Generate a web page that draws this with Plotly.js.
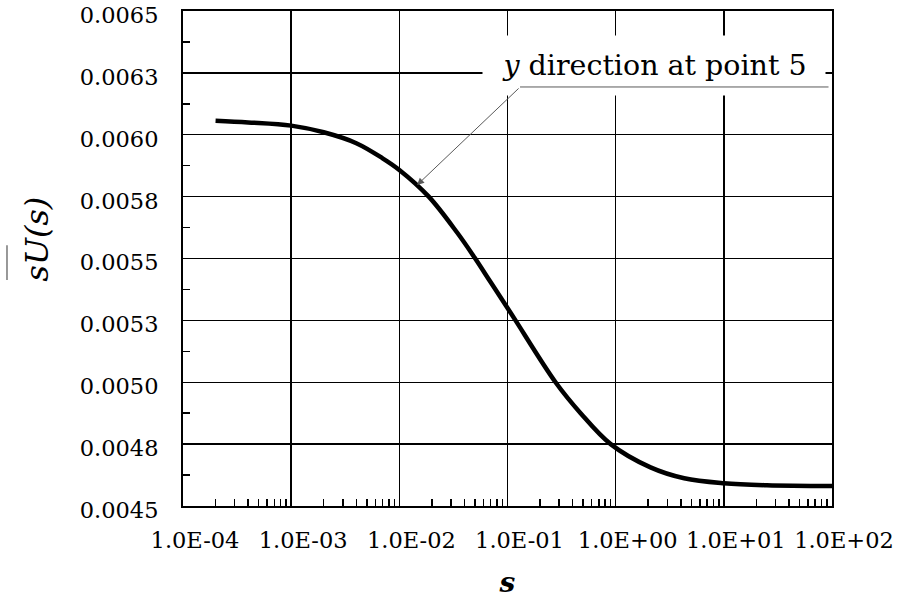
<!DOCTYPE html>
<html><head><meta charset="utf-8">
<script src="https://cdn.plot.ly/plotly-3.0.1.min.js"></script>
<style>html,body{margin:0;padding:0;background:#fff}</style>
</head><body><div id="chart" style="width:897px;height:601px"></div>
<script>
// Data
const sValues = [2e-4, 4e-4, 1e-3, 2e-3, 4e-3, 7e-3, 1e-2, 0.0187, 0.0342, 0.0494, 0.0697, 0.1, 0.1186, 0.278, 0.474, 0.899, 2.1, 4.3, 10, 25, 100];
const sUValues = [0.006057, 0.006050, 0.006037, 0.006010, 0.005966, 0.005905, 0.005858, 0.005750, 0.005605, 0.005505, 0.005405, 0.005300, 0.005250, 0.005000, 0.004875, 0.004750, 0.004656, 0.004612, 0.004592, 0.004584, 0.004581];

const xTickVals = [1e-4, 1e-3, 1e-2, 1e-1, 1, 10, 100];
const xTickLabels = ['1.0E-04', '1.0E-03', '1.0E-02', '1.0E-01', '1.0E+00', '1.0E+01', '1.0E+02'];
const yTickVals = [0.0045, 0.00475, 0.005, 0.00525, 0.0055, 0.00575, 0.006, 0.00625, 0.0065];
const yTickLabels = ['0.0045', '0.0048', '0.0050', '0.0053', '0.0055', '0.0058', '0.0060', '0.0063', '0.0065'];

const calloutText = '<i>y</i> direction at point 5';
const calloutTarget = {x: 0.0146, y: 0.005797};
const xTitle = '<b><i>s</i></b>';
const yTitle = '<i>sU(s)</i>';

// minor ticks (axis decoration)
const xMinor = [];
for (let d = -4; d < 2; d++) for (let k = 2; k <= 9; k++) xMinor.push(k * Math.pow(10, d));
const yMinor = [];
for (let i = 0; i < yTickVals.length - 1; i++) yMinor.push((yTickVals[i] + yTickVals[i + 1]) / 2);

const FONT = 'DejaVu Serif';

const trace = {
  x: sValues, y: sUValues, type: 'scatter', mode: 'lines',
  line: {color: '#000', width: 4.5, shape: 'spline', smoothing: 1},
  hoverinfo: 'skip'
};

const layout = {
  width: 897, height: 601,
  margin: {l: 183, r: 65, t: 11, b: 95},
  paper_bgcolor: '#fff', plot_bgcolor: '#fff',
  showlegend: false,
  font: {family: FONT, color: '#000', size: 23},
  xaxis: {
    type: 'log', range: [-4, 2.00001],
    tickmode: 'array', tickvals: xTickVals, ticktext: xTickLabels,
    ticks: '', showgrid: true, gridcolor: '#000', gridwidth: 1.4,
    showline: true, linecolor: '#000', linewidth: 2, mirror: true,
    zeroline: false,
    tickfont: {family: FONT, size: 22.5, color: '#000'},
    ticklabelstandoff: 13, ticklabelshift: 12, ticklabeloverflow: 'allow',
    minor: {tickmode: 'array', tickvals: xMinor, ticks: 'inside', ticklen: 7, tickwidth: 1.5, tickcolor: '#000', showgrid: false},
    title: {text: xTitle, font: {family: FONT, size: 28, color: '#000'}, standoff: 20}
  },
  yaxis: {
    range: [0.0045, 0.0065001],
    tickmode: 'array', tickvals: yTickVals, ticktext: yTickLabels,
    ticks: '', showgrid: true, gridcolor: '#000', gridwidth: 1.4,
    showline: true, linecolor: '#000', linewidth: 2, mirror: true,
    zeroline: false,
    tickfont: {family: FONT, size: 22.5, color: '#000'},
    ticklabelstandoff: 18, ticklabelshift: 4, ticklabeloverflow: 'allow',
    minor: {tickmode: 'array', tickvals: yMinor, ticks: 'inside', ticklen: 7, tickwidth: 1.5, tickcolor: '#000', showgrid: false}
  },
  shapes: [
    {type: 'line', xref: 'paper', yref: 'paper', x0: -0.2712, x1: -0.2712, y0: 0.4566, y1: 0.527,
     line: {color: '#777', width: 1.5}}
  ],
  annotations: [
    {xref: 'paper', yref: 'paper', x: -0.225, y: 0.5404, xanchor: 'center', yanchor: 'middle',
     text: yTitle, textangle: -90, showarrow: false, font: {family: FONT, size: 32, color: '#000'}},
    {xref: 'paper', yref: 'paper', x: 0.7257, y: 0.8899, xanchor: 'center', yanchor: 'middle',
     text: calloutText, showarrow: false, bgcolor: '#fff', borderpad: 0, width: 342, height: 59,
     font: {family: FONT, size: 28.5, color: '#000'}},
    {xref: 'paper', yref: 'paper', x: 0.5193, y: 0.8465, text: '', showarrow: true,
     axref: 'pixel', ayref: 'pixel', ax: 310, ay: 0, arrowhead: 0, arrowwidth: 1, arrowcolor: '#595959', standoff: 0, startstandoff: 0},
    {xref: 'x', yref: 'y', x: Math.log10(calloutTarget.x), y: calloutTarget.y, text: '', showarrow: true,
     axref: 'pixel', ayref: 'pixel', ax: 103, ay: -98, arrowhead: 2, arrowsize: 1.4, arrowwidth: 1, arrowcolor: '#595959', standoff: 0, startstandoff: 0}
  ]
};

Plotly.newPlot('chart', [trace], layout, {staticPlot: true, displayModeBar: false});
</script></body></html>
